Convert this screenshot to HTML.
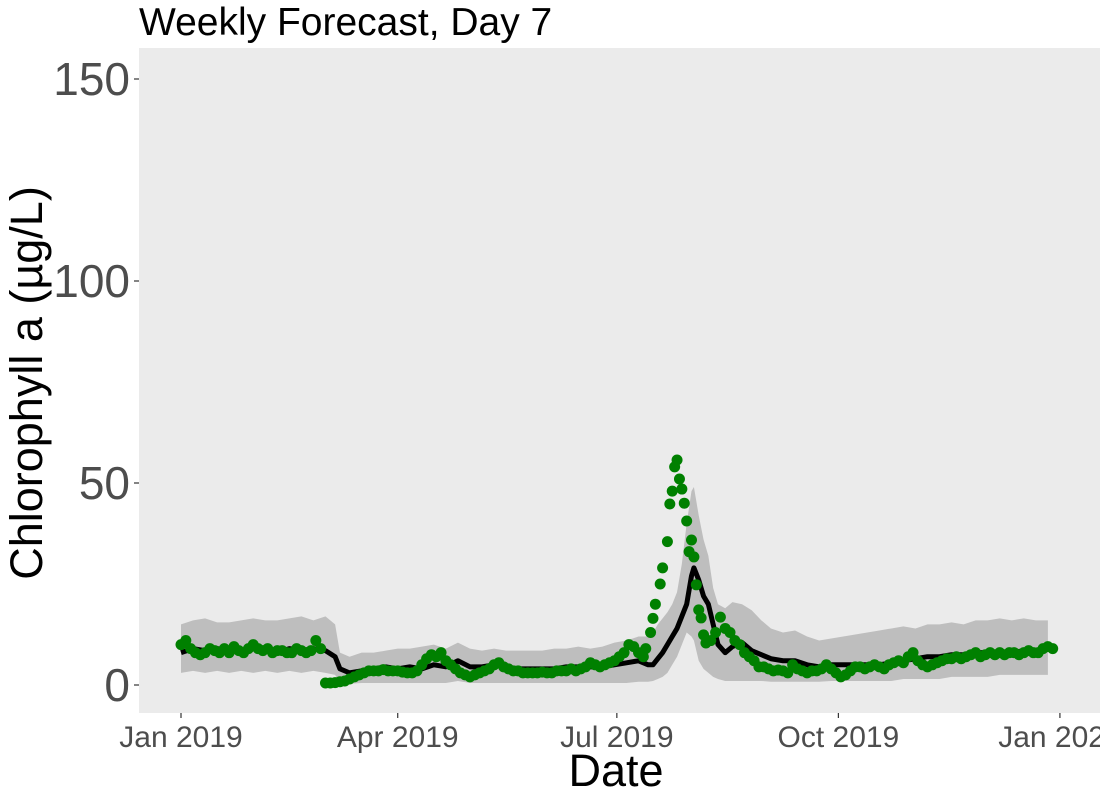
<!DOCTYPE html>
<html><head><meta charset="utf-8"><style>
html,body{margin:0;padding:0;background:#fff;}
svg text{font-family:"Liberation Sans",Arial,sans-serif;}
</style></head><body>
<svg id="chart" width="1100" height="800" xmlns="http://www.w3.org/2000/svg">
<rect x="139" y="48" width="961" height="665" fill="#ebebeb"/>
<g id="band"></g>
<g id="mean"></g>
<g id="obs"></g>
<g id="yaxis"></g>
<g id="xaxis"></g>
<text x="139" y="35" font-size="39" fill="#000">Weekly Forecast, Day 7</text>
<text transform="translate(42,383) rotate(-90)" text-anchor="middle" font-size="45" fill="#000">Chlorophyll a (µg/L)</text>
<text x="616" y="786" text-anchor="middle" font-size="45" fill="#000">Date</text>
</svg>
<script>
const fcDays=[0,5,10,15,20,25,30,35,40,45,50,55,60,64,66,70,75,80,85,90,95,100,105,110,115,120,125,130,135,140,145,150,155,160,165,170,175,180,185,190,194,196,198,200,202,204,206,208,210,212,213,215,217,219,221,223,226,229,233,237,241,245,250,255,260,265,270,275,280,285,290,295,300,305,310,315,320,325,330,335,340,345,350,355,360];
const fcMean=[8,9,8.5,9,8.5,8.5,9,8.5,8,9,8.5,9,8.5,7,4,3,3.5,4,4.5,4,4.5,4,5,4.5,6,4.5,4.5,5,4.5,4,4,4,4,4.5,4.5,4.5,4.5,5,5.5,6,5,5,6.5,8,10,12,14,17,20,27,29,26,22,20,15,10,8,9.5,10.5,8.5,7.5,6.5,6,6,5,4.5,5,5,5,5,5,5.5,6,6.5,7,7,7.5,7.5,8,8,8,8,8.5,8.5,9];
const fcLower=[3,3.5,3,3.5,3,3.5,3,3.5,3,3.5,3,3.5,3,2.5,0.5,0.3,0.5,0.5,0.5,0.5,0.5,0.5,0.5,0.5,1,0.5,0.5,0.5,0.5,0.5,0.5,0.5,0.5,0.5,0.5,0.5,0.5,0.5,0.5,0.8,0.8,1,1.5,2,3,5,7,10,13,12,11,6,4,3,2,1.5,1,1,1,1,1,0.8,0.8,0.8,0.8,0.8,1,1,1,1,1,1,1.5,1.5,1.5,1.5,2,2,2,2,2.5,2.5,2.5,2.5,2.5];
const fcUpper=[15,16,16.5,15.5,15.5,16,16.5,16,16,16.5,17,16,17,15,8,7,8,8,8.5,9,9,9.5,10,9,10.5,9,8.5,9,8.5,8.5,8.5,8.5,9,9,9.5,9,9.5,10.5,11,12,12,13,15,16.5,18,20,23,30,40,48,49,42,36,32,24,20,19,20.5,20,18.5,16,14,13,13.5,12,11,11.5,12,12.5,13,13.5,14,14.5,14,15,15,15.5,15,16,16,16.5,16,16.5,16,16];
const obsDays=[0,2,4,6,8,10,12,14,16,18,20,22,24,26,28,30,32,34,36,38,40,42,44,46,48,50,52,54,56,58,60,62,64,66,68,70,72,74,76,78,80,82,84,86,88,90,92,94,96,98,100,102,104,106,108,110,112,114,116,118,120,122,124,126,128,130,132,134,136,138,140,142,144,146,148,150,152,154,156,158,160,162,164,166,168,170,172,174,176,178,180,182,184,186,188,190,192,193,195,196,197,199,200,202,203,204,205,206,207,208,209,210,211,212,213,214,215,216,217,218,220,222,224,226,228,230,232,234,236,238,240,242,244,246,248,250,252,254,256,258,260,262,264,266,268,270,272,274,276,278,280,282,284,286,288,290,292,294,296,298,300,302,304,306,308,310,312,314,316,318,320,322,324,326,328,330,332,334,336,338,340,342,344,346,348,350,352,354,356,358,360,362];
const obsVals=[10,11,9,8,7.5,8,9,8.5,8,9,8,9.5,8.5,8,9,10,9,8.5,9,8,8.5,8.5,8,8,9,8.5,8,8.5,11,9,0.5,0.5,0.6,0.8,1,1.5,2,2.5,3,3.5,3.5,3.5,3.8,3.5,3.5,3.5,3.2,3,3,3.5,5,6.5,7.5,7,8,6,5,4,3,2.5,2,2.5,3,3.5,4,5,5.5,4.5,4,3.5,3.5,3,3,3,3,3.2,3,3,3.5,3.5,3.5,4,3.5,4,4.5,5.5,5,4.5,5,5.5,6,7,8,10,9.5,8,7,9,13,16.5,20,25,29,35.5,44.8,48,54,55.7,51,48.5,45,40.6,33,35.9,31.7,24.8,18.6,16.6,12.4,10.4,11,13,16.8,14,13,11,10,8,7,6,4.5,4.5,4,3.5,3.7,3.5,3,5,4,3.5,3,3.5,3.5,4,5,4,3,2,2.5,3.5,4.5,4.5,4,4.5,5,4.5,4,5,5.5,6,5.5,7,8,6,5,4.5,5,5.5,6,6.5,6.5,7,6.5,7,7.5,8,7,7.5,8,7.5,8,7.5,8,8,7.5,8,8.5,8,8,9,9.5,9];
const yTicks=[0,50,100,150];
const xTickDays=[0,90,181,273,365];
const xTickLabels=["Jan 2019","Apr 2019","Jul 2019","Oct 2019","Jan 2020"];

const NS="http://www.w3.org/2000/svg";
function xs(d){return 181+2.408*d;}
function ys(v){return 685-4.04*v;}
function mk(tag,attrs,parent){const e=document.createElementNS(NS,tag);for(const k in attrs)e.setAttribute(k,attrs[k]);parent.appendChild(e);return e;}

const band=document.getElementById('band');
let pts=fcDays.map((d,i)=>xs(d)+','+ys(fcUpper[i]));
for(let i=fcDays.length-1;i>=0;i--)pts.push(xs(fcDays[i])+','+ys(fcLower[i]));
const poly=mk('polygon',{points:pts.join(' '),fill:'#bebebe'},band);



const mean=document.getElementById('mean');
const pl=mk('polyline',{points:fcDays.map((d,i)=>xs(d)+','+ys(fcMean[i])).join(' '),fill:'none',stroke:'#000','stroke-width':5,'stroke-linejoin':'round'},mean);



const obs=document.getElementById('obs');
obsDays.forEach((d,i)=>{
  const c=mk('circle',{cx:xs(d),cy:ys(obsVals[i]),r:5.5,fill:'#008000'},obs);
  
  
});

const ya=document.getElementById('yaxis');
yTicks.forEach(v=>{
  const t=mk('line',{x1:134,x2:139,y1:ys(v),y2:ys(v),stroke:'#333','stroke-width':1.2},ya);
  
  
  const l=mk('text',{x:130,y:ys(v)+16,'text-anchor':'end','font-size':46,fill:'#4d4d4d'},ya);
  l.textContent=v;
  
  
});
const xa=document.getElementById('xaxis');
xTickDays.forEach((d,i)=>{
  const t=mk('line',{x1:xs(d),x2:xs(d),y1:713,y2:718,stroke:'#333','stroke-width':1.2},xa);
  
  
  const l=mk('text',{x:xs(d),y:747,'text-anchor':'middle','font-size':30,fill:'#4d4d4d'},xa);
  l.textContent=xTickLabels[i];
  
  
});
</script>
</body></html>
